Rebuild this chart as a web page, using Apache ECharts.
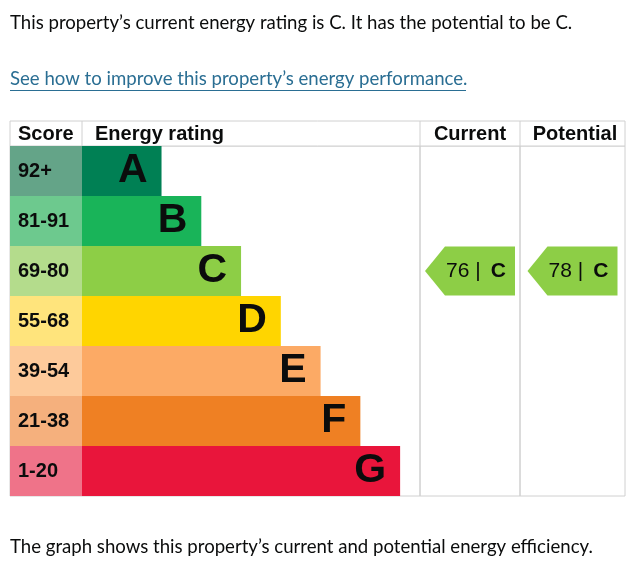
<!DOCTYPE html>
<html>
<head>
    <meta charset="utf8">
    <title>Energy rating</title>
    <script src="https://cdn.jsdelivr.net/npm/echarts@6/dist/echarts.min.js"></script>
    <style>
        html, body { margin: 0; padding: 0; background: #fff; }
    </style>
</head>
<body>
    <div id="main" style="width: 634px;height:564px;"></div>
    <script type="text/javascript">
        // bands, top to bottom
        var bands = ['A', 'B', 'C', 'D', 'E', 'F', 'G'];
        var scoreLabels = ['92+', '81-91', '69-80', '55-68', '39-54', '21-38', '1-20'];
        var bandMin = [92, 81, 69, 55, 39, 21, 1];
        var barLength = [2, 3, 4, 5, 6, 7, 8];
        var barColors = ['#008054', '#19b459', '#8dce46', '#ffd500', '#fcaa65', '#ef8023', '#e9153b'];
        var scoreColors = ['#64a488', '#6dc98e', '#b4dc8c', '#ffe47c', '#fdca9b', '#f5b07d', '#ef7389'];
        var currentScore = 76;
        var potentialScore = 78;

        function bandOf(score) {
            for (var i = 0; i < bandMin.length; i++) {
                if (score >= bandMin[i]) return bands[i];
            }
            return bands[bands.length - 1];
        }

        var textFont = 'Lato';
        var chartFont = 'Liberation Sans';
        var arrowPath = 'path://M0,25 L20,0 L90,0 L90,50 L20,50 Z';

        var myChart = echarts.init(document.getElementById('main'));

        function catAxis(idx) {
            return { type: 'category', gridIndex: idx, data: bands, inverse: true, show: false };
        }
        function arrowSeries(idx, score) {
            var b = bandOf(score);
            return {
                type: 'scatter',
                xAxisIndex: idx, yAxisIndex: idx,
                symbol: arrowPath,
                symbolSize: [90, 49],
                silent: true,
                itemStyle: { color: barColors[bands.indexOf(b)], opacity: 1 },
                label: {
                    show: true,
                    position: 'inside',
                    offset: [6, 0],
                    formatter: '{n|' + score + ' |}   {b|' + b + '}',
                    rich: {
                        n: { fontFamily: chartFont, fontSize: 21, color: '#0b0c0c' },
                        b: { fontFamily: chartFont, fontSize: 21, fontWeight: 'bold', color: '#0b0c0c' }
                    }
                },
                data: [[50, b]]
            };
        }

        var option = {
            backgroundColor: '#fff',
            animation: false,
            grid: [
                { left: 10, top: 146, width: 72, height: 350, show: true, borderColor: '#d0d0d0', borderWidth: 1 },
                { left: 82, top: 146, width: 338, height: 350, show: true, borderColor: '#d0d0d0', borderWidth: 1 },
                { left: 420, top: 146, width: 100, height: 350, show: true, borderColor: '#d0d0d0', borderWidth: 1 },
                { left: 520, top: 146, width: 105, height: 350, show: true, borderColor: '#d0d0d0', borderWidth: 1 }
            ],
            xAxis: [
                { type: 'value', gridIndex: 0, min: 0, max: 1, show: false },
                { type: 'value', gridIndex: 1, min: 0, max: 8.5, show: false },
                { type: 'value', gridIndex: 2, min: 0, max: 100, show: false },
                { type: 'value', gridIndex: 3, min: 0, max: 100, show: false }
            ],
            yAxis: [catAxis(0), catAxis(1), catAxis(2), catAxis(3)],
            series: [
                {
                    type: 'bar',
                    xAxisIndex: 0, yAxisIndex: 0,
                    barCategoryGap: '0%',
                    silent: true,
                    data: scoreLabels.map(function (s, i) {
                        return { value: 1, itemStyle: { color: scoreColors[i] } };
                    }),
                    label: {
                        show: true,
                        position: 'insideLeft',
                        distance: 8,
                        fontFamily: chartFont,
                        fontSize: 20,
                        fontWeight: 'bold',
                        color: '#0b0c0c',
                        formatter: function (p) { return scoreLabels[p.dataIndex]; }
                    }
                },
                {
                    type: 'bar',
                    xAxisIndex: 1, yAxisIndex: 1,
                    barCategoryGap: '0%',
                    silent: true,
                    data: barLength.map(function (v, i) {
                        return { value: v, itemStyle: { color: barColors[i] } };
                    }),
                    label: {
                        show: true,
                        position: 'insideRight',
                        distance: 14,
                        fontFamily: chartFont,
                        fontSize: 41,
                        fontWeight: 'bold',
                        color: '#0b0c0c',
                        formatter: function (p) { return bands[p.dataIndex]; }
                    }
                },
                arrowSeries(2, currentScore),
                arrowSeries(3, potentialScore)
            ],
            graphic: [
                // page text
                { type: 'text', left: 10, top: 13, style: { text: 'This property\u2019s current energy rating is C. It has the potential to be C.', font: '18.6px ' + textFont, fill: '#0b0c0c' } },
                { type: 'text', left: 10, top: 69, style: { text: 'See how to improve this property\u2019s energy performance.', font: '18.6px ' + textFont, fill: '#2a6e93' } },
                { type: 'rect', left: 10, top: 90, shape: { width: 456, height: 1 }, style: { fill: '#2a6e93' } },
                { type: 'text', left: 10, top: 537, style: { text: 'The graph shows this property\u2019s current and potential energy efficiency.', font: '18.6px ' + textFont, fill: '#0b0c0c' } },
                // header row
                { type: 'rect', shape: { x: 10, y: 121, width: 615, height: 25 }, style: { fill: '#fff', stroke: '#d0d0d0', lineWidth: 1 } },
                { type: 'line', shape: { x1: 82, y1: 121, x2: 82, y2: 146 }, style: { stroke: '#d0d0d0' } },
                { type: 'line', shape: { x1: 420, y1: 121, x2: 420, y2: 146 }, style: { stroke: '#d0d0d0' } },
                { type: 'line', shape: { x1: 520, y1: 121, x2: 520, y2: 146 }, style: { stroke: '#d0d0d0' } },
                { type: 'text', x: 18, y: 134, style: { text: 'Score', font: 'bold 20px ' + chartFont, fill: '#0b0c0c', verticalAlign: 'middle' } },
                { type: 'text', x: 95, y: 134, style: { text: 'Energy rating', font: 'bold 20px ' + chartFont, fill: '#0b0c0c', verticalAlign: 'middle' } },
                { type: 'text', x: 470, y: 134, style: { text: 'Current', font: 'bold 20px ' + chartFont, fill: '#0b0c0c', align: 'center', verticalAlign: 'middle' } },
                { type: 'text', x: 575, y: 134, style: { text: 'Potential', font: 'bold 20px ' + chartFont, fill: '#0b0c0c', align: 'center', verticalAlign: 'middle' } }
            ]
        };
        myChart.setOption(option);
    </script>
</body>
</html>
